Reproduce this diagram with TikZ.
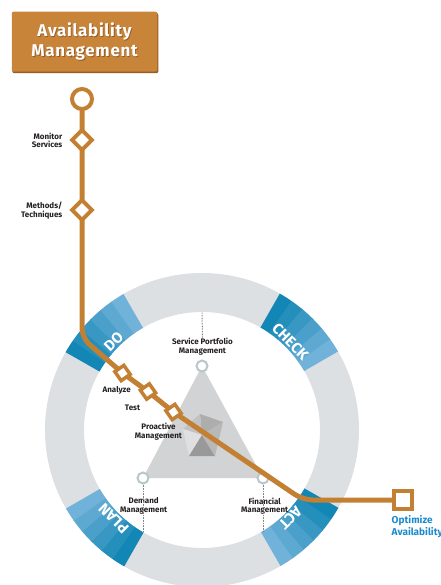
\documentclass[tikz,border=0pt]{standalone}
\usepackage{fontspec}
\setmainfont{Fira Sans}
\usetikzlibrary{calc}
\definecolor{ringc}{RGB}{220,224,227}
\definecolor{bdark}{RGB}{18,134,180}
\definecolor{blight}{RGB}{112,178,217}
\definecolor{org}{RGB}{196,128,50}
\definecolor{titlebg}{RGB}{200,132,56}
\definecolor{titlesh}{RGB}{150,92,36}
\definecolor{tric}{RGB}{209,211,212}
\definecolor{lblc}{RGB}{35,31,32}
\definecolor{optblue}{RGB}{28,138,203}
\definecolor{circc}{RGB}{185,198,202}
\definecolor{dotc}{RGB}{130,132,134}
\pgfdeclarelayer{fg}
\pgfsetlayers{main,fg}
\begin{document}
\begin{tikzpicture}[x=1pt,y=1pt,
  lab/.style={font=\bfseries\fontsize{8}{8.3}\selectfont, text=lblc, align=center, inner sep=0pt},
  vtx/.style={circle, draw=circc, fill=white, line width=2pt, minimum size=11pt, inner sep=0pt},
  orgline/.style={draw=org, line width=5pt, rounded corners=10pt},
  bigdiam/.style={rectangle, draw=org, fill=white, line width=4pt, minimum size=14pt, inner sep=0pt, rotate=45},
  smalldiam/.style={rectangle, draw=org, fill=white, line width=3.5pt, minimum size=11pt, inner sep=0pt, rotate=35},
  startring/.style={circle, draw=org, fill=white, line width=4pt, minimum size=20pt, inner sep=0pt},
  endsq/.style={rectangle, draw=org, fill=white, line width=4pt, minimum size=18pt, inner sep=0pt},
  bandtxt/.style={font=\bfseries\fontsize{15}{15}\selectfont, text=white, inner sep=0pt},
  dots/.style={draw=dotc, line width=1pt, dash pattern=on 0.8pt off 0.8pt},
  titletxt/.style={font=\bfseries\fontsize{17}{20}\selectfont\addfontfeatures{LetterSpace=4}, align=center, inner sep=0pt}
]
\useasboundingbox (0,0) rectangle (440,-585);

% ring
\begin{scope}[shift={(202,-430)}]
  \fill[ringc, even odd rule] (0,0) circle[radius=157] (0,0) circle[radius=118];
  \foreach \a in {150,60,-30,240}{
    \foreach \i in {0,...,5}{
      \pgfmathsetmacro\sa{\a-\i*5+0.3}
      \pgfmathsetmacro\ea{\a-\i*5-5}
      \pgfmathtruncatemacro\p{\i*20}
      \fill[blight!\p!bdark] (\sa:157) arc[start angle=\sa, end angle=\ea, radius=157]
        -- (\ea:118) arc[start angle=\ea, end angle=\sa, radius=118] -- cycle;
    }
  }
  \node[bandtxt, rotate=45] (do) at (135:125) {DO};
  \node[bandtxt, rotate=-45] (check) at (45:125) {CHECK};
  \node[bandtxt, rotate=-135] (act) at (-45:125) {ACT};
  \node[bandtxt, rotate=135] (plan) at (225:125) {PLAN};
\end{scope}

% triangle
\coordinate (tv1) at (202,-366);
\coordinate (tv2) at (143,-478);
\coordinate (tv3) at (263,-478);
\fill[tric] (tv1) -- (tv2) -- (tv3) -- cycle;

% gem
\coordinate (gt) at (200,-414);
\coordinate (gr) at (223,-422);
\coordinate (gbr) at (215,-456);
\coordinate (gbl) at (189,-456);
\coordinate (gl) at (183,-429);
\coordinate (gm) at (202,-435);
\fill[black!32] (gt) -- (gr) -- (gm) -- cycle;
\fill[black!24] (gt) -- (gl) -- (gm) -- cycle;
\fill[black!12] (gl) -- (gbl) -- (gm) -- cycle;
\fill[black!40] (gbl) -- (gbr) -- (gm) -- cycle;
\fill[black!28] (gr) -- (gbr) -- (gm) -- cycle;

% dotted guides and vertex circles
\node[lab] (splab) at (202.5,-346.7) {Service Portfolio\\Management};
\node[lab] (dmlab) at (143.7,-505.8) {Demand\\Management};
\node[lab] (fmlab) at (264.7,-505.8) {Financial\\Management};
\coordinate (spd) at (202,-312.5);
\coordinate (dmd) at (143,-532);
\coordinate (fmd) at (263,-531);
\draw[dots] (splab.north) -- (spd);
\node[vtx] (sp) at (tv1) {};
\node[vtx] (dm) at (tv2) {};
\node[vtx] (fm) at (tv3) {};
\draw[dots] (dm.south) -- (dmd);
\draw[dots] (fm.south) -- (fmd);

% other labels
\node[lab] (anlab) at (116.7,-390.7) {Analyze};
\node[lab] (telab) at (132.5,-407.7) {Test};
\node[lab] (prlab) at (158.5,-431.7) {Proactive\\Management};
\node[lab, align=right, anchor=east] (molab) at (62.5,-140.5) {Monitor\\Services};
\node[lab, align=right, anchor=east] (melab) at (62.5,-210.5) {Methods/\\Techniques};
\node[font=\bfseries\fontsize{10}{9.5}\selectfont, text=optblue, align=left, anchor=north west, inner sep=0pt] (optlab) at (391.5,-515.5) {Optimize\\Availability};

% title
\fill[titlesh, rounded corners=2pt] (12.3,-13) rectangle (158.3,-73.2);
\node[fill=titlebg, rounded corners=2pt, minimum width=145.5pt, minimum height=60pt, inner sep=0pt] (title) at (84.5,-41.7) {};
\node[titletxt, text=titlesh] (titlesh) at (85.4,-42.6) {Availability\\Management};
\node[titletxt, text=white] (titletext) at (84.5,-41.7) {Availability\\Management};

% orange path nodes
\begin{pgfonlayer}{fg}
\node[startring] (o1) at (82,-99) {};
\node[bigdiam] (d1) at (82,-140) {};
\node[bigdiam] (d2) at (82,-210) {};
\node[smalldiam] (an) at (122.5,-373) {};
\node[smalldiam] (te) at (148,-391.5) {};
\node[smalldiam] (pr) at (173.5,-412) {};
\node[endsq] (op) at (403,-500) {};
\end{pgfonlayer}
\coordinate (b1) at (82,-338);
\coordinate (b2) at (303,-500);
\draw[orgline] (o1.center) -- (d1.center) -- (d2.center) -- (b1) -- (an.center) -- (te.center) -- (pr.center) -- (b2) -- (op.center);
\end{tikzpicture}
\end{document}
